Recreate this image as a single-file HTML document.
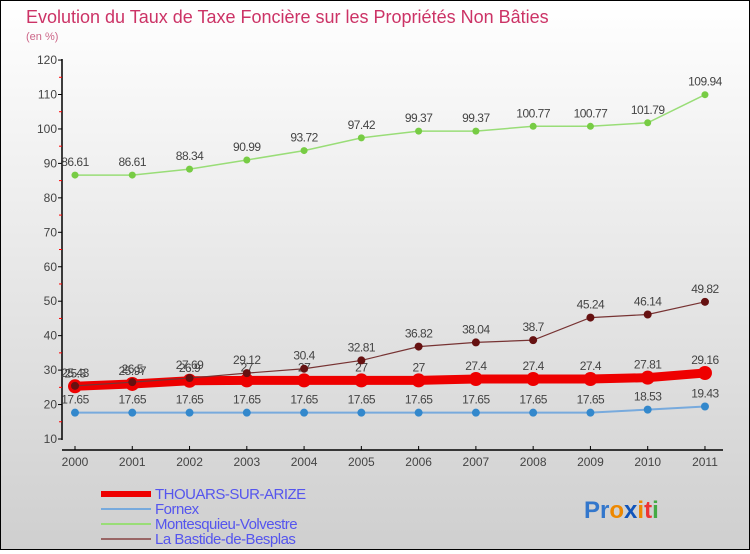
<!DOCTYPE html>
<html><head><meta charset="utf-8"><style>
body{margin:0}
#c{width:748px;height:548px;border:1px solid #000;background:linear-gradient(#fff,#cfcfcf);position:relative;font-family:"Liberation Sans",sans-serif}
</style></head><body>
<div id="c">
<svg width="748" height="548" id="s"></svg>
</div>
<script>
const years=[2000,2001,2002,2003,2004,2005,2006,2007,2008,2009,2010,2011];
const thouars=[25.3,25.97,26.9,27,27,27,27,27.4,27.4,27.4,27.81,29.16];
const fornex=[17.65,17.65,17.65,17.65,17.65,17.65,17.65,17.65,17.65,17.65,18.53,19.43];
const montesquieu=[86.61,86.61,88.34,90.99,93.72,97.42,99.37,99.37,100.77,100.77,101.79,109.94];
const bastide=[25.43,26.5,27.69,29.12,30.4,32.81,36.82,38.04,38.7,45.24,46.14,49.82];
const yTicks=[10,20,30,40,50,60,70,80,90,100,110,120];
const NS="http://www.w3.org/2000/svg";
const s=document.getElementById('s');
const X=i=>74+i*57.27, Y=v=>438-(v-10)*3.445;
function el(t,a,txt){const e=document.createElementNS(NS,t);for(const k in a)e.setAttribute(k,a[k]);if(txt!==undefined)e.textContent=txt;s.appendChild(e);return e;}
let e;
e=el('text',{x:25,y:22,fill:'#cc3366','font-size':18},'Evolution du Taux de Taxe Foncière sur les Propriétés Non Bâties');


e=el('text',{x:25,y:39,fill:'#cc6688','font-size':11},'(en %)');


el('line',{x1:61,y1:58,x2:61,y2:439,stroke:'#000','stroke-width':1.5});
el('line',{x1:61,y1:449,x2:722,y2:449,stroke:'#000','stroke-width':1.5});
yTicks.forEach(v=>{el('line',{x1:57,y1:Y(v),x2:61,y2:Y(v),stroke:'#000'});
 e=el('text',{x:56,y:Y(v)+4,'text-anchor':'end','font-size':12,fill:'#444'},v);
 
 
 if(v<120)el('line',{x1:58,y1:Y(v+5),x2:61,y2:Y(v+5),stroke:'red'});});
years.forEach((y,i)=>{el('line',{x1:X(i),y1:445,x2:X(i),y2:449,stroke:'#000'});
 e=el('text',{x:X(i),y:465,'text-anchor':'middle','font-size':12,fill:'#444'},y);
 
 });
function series(d,col,w,r,dot,name,lab){
 e=el('polyline',{points:d.map((v,i)=>X(i)+','+Y(v)).join(' '),fill:'none',stroke:col,'stroke-width':w});
 
 
 d.forEach((v,i)=>{e=el('circle',{cx:X(i),cy:Y(v),r:r,fill:dot});
  
  
  e=el('text',{x:X(i),y:Y(v)-9,'text-anchor':'middle','font-size':12,fill:'#444','letter-spacing':'-0.5'},lab[i]);
  
  });
}
series(montesquieu,'#99dd77',1.5,3.5,'#77cc44','montesquieu',montesquieu);
series(fornex,'#77aadd',2,4,'#3388cc','fornex',fornex);
series(thouars,'#ee0000',9,7,'#ee0000','thouars',thouars);
series(bastide,'#773333',1.2,4,'#661111','bastide',bastide);
const leg=[['THOUARS-SUR-ARIZE','#ee0000',6],['Fornex','#77aadd',2],['Montesquieu-Volvestre','#99dd77',2],['La Bastide-de-Besplas','#996666',2]];
leg.forEach((l,i)=>{const y=493+i*15;
 e=el('line',{x1:100,y1:y,x2:150,y2:y,stroke:l[1],'stroke-width':l[2]});
 
 
 e=el('text',{x:154,y:y+5,'font-size':15,fill:'#5555ee','letter-spacing':'-0.5'},l[0]);
 
 });
e=el('text',{x:583,y:517,'font-size':24,'font-weight':'bold'});


e.innerHTML='<tspan fill="#3377cc">Pr</tspan><tspan fill="#ee8800">o</tspan><tspan fill="#1155bb">x</tspan><tspan fill="#ee8800">i</tspan><tspan fill="#ee3333">t</tspan><tspan fill="#44aa44">i</tspan>';
</script>
</body></html>
